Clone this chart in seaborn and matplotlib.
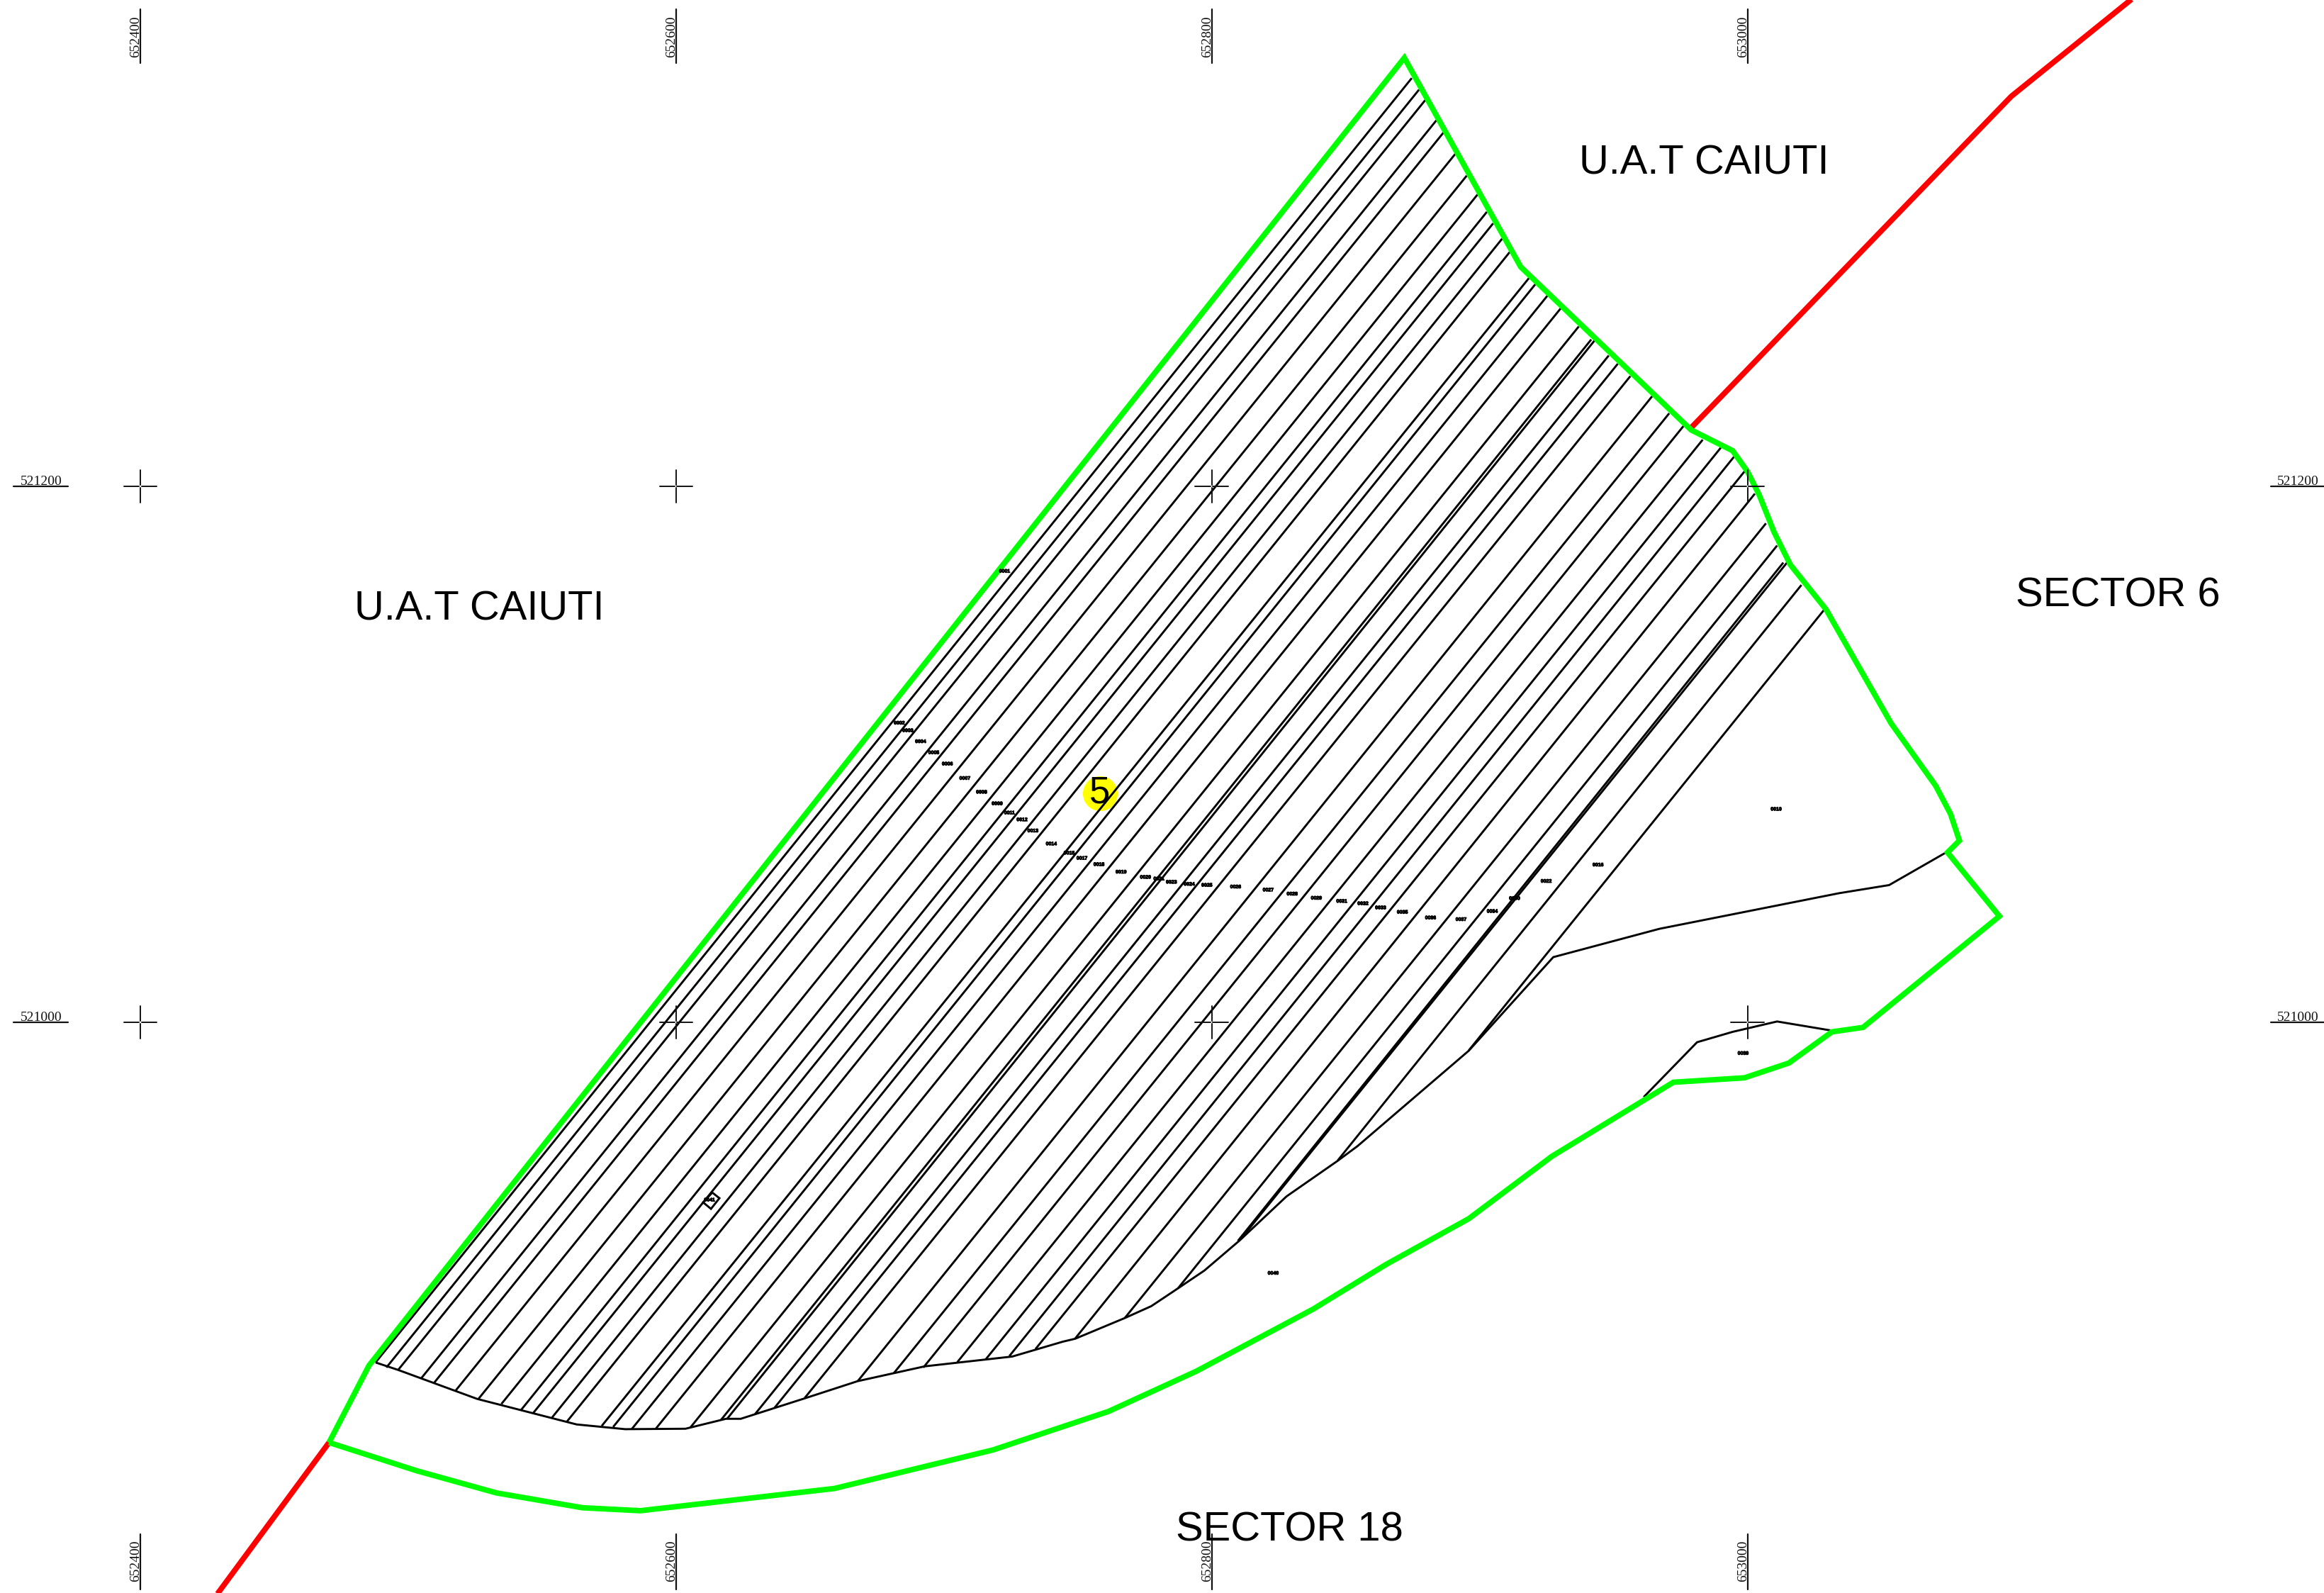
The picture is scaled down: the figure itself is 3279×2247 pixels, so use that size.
import numpy as np
import pandas as pd
import matplotlib
matplotlib.use("Agg")
import matplotlib.pyplot as plt
import matplotlib.patheffects as pe
import seaborn as sns

# Map grid (Stereo 70 metres) and how the digitised sheet positions relate to it
grid_east = [652400, 652600, 652800, 653000]
grid_north = [521200, 521000]
SHEET_PER_M = 1.8075
SHEET_E0, SHEET_N0 = 94.5, 328.0

# Parcel boundary (green)
boundary_x = [222, 249, 947.5, 1026, 1141, 1169, 1179, 1187, 1197, 1208, 1232, 1276, 1306, 1316, 1322,
              1314, 1349, 1257, 1236, 1207, 1177, 1129, 1047, 991, 935, 886, 807, 748, 670, 563, 432,
              393, 335, 281, 222]
boundary_y = [973, 921, 39, 180, 290, 304, 318, 334, 359, 381, 411, 488, 530, 549, 567,
              575, 618, 693, 696, 717, 727, 730, 780, 822, 853, 883, 925, 952, 978, 1004, 1019,
              1017, 1007, 992, 973]

# Neighbouring limits (red)
red_upper_x = [1141.5, 1357, 1440]
red_upper_y = [288, 65, -2]
red_lower_x = [222, 146]
red_lower_y = [973, 1076]

# Inner black limit of the hatched lots
inner_x = [253.4, 268.5, 322, 389, 421.8, 462.5, 489.8, 499.8, 543.6, 578.7, 624, 683, 717, 725.4, 759,
           776.8, 794.8, 812.6, 836.5, 868, 902.5, 916, 991, 1048, 1119.6, 1240.7, 1274.6, 1313]
inner_y = [919, 924, 943.6, 960.8, 964, 963.7, 957, 957, 943, 931.6, 921.6, 915, 905, 903, 889,
           881, 869, 857, 836.6, 807, 783, 773, 708.7, 645.6, 626.5, 602.5, 597, 575]

# Small enclosed lot in the south-east
pocket_x = [1109, 1145, 1169, 1199, 1235]
pocket_y = [740, 703, 696, 689, 695]

# Lot dividing lines: north-east ends and south-west ends
lot_top_x = [952.5, 957.4, 961.8, 969.1, 974, 981.8, 989.6, 996.9, 1003.2, 1007.4, 1013.5, 1018.8, 1031.8,
             1035.9, 1044, 1053, 1065.2, 1073.6, 1077.2, 1085.4, 1091.5, 1100, 1114.7, 1126.2, 1135.9,
             1148.8, 1161, 1170, 1177, 1184, 1191.5, 1199, 1203.2, 1206.5, 1215.4, 1231]
lot_top_y = [52.7, 60.5, 67.3, 81.2, 89.3, 103.9, 118.5, 131.2, 142.9, 150.7, 161, 169.8, 187.3,
             191.7, 199.5, 208, 220.2, 229, 228, 239.8, 245.4, 253.7, 267.3, 278.8, 287.3,
             296.6, 302, 308, 318, 333, 353, 368, 379.5, 378.5, 394.6, 411]
lot_low_x = [253.4, 260.7, 268.5, 284.2, 292.6, 307.4, 322.8, 338.3, 351.7, 359.7, 372.5, 382.5, 406,
             413.7, 426.1, 442.3, 465.7, 486.5, 490.6, 509.4, 522.4, 542.9, 578.8, 603, 623,
             645.9, 665, 681, 698.6, 725.3, 759, 794.7, 835.2, 837.8, 902.6, 991]
lot_low_y = [919, 922.4, 924.2, 929.7, 933.1, 938, 943.6, 947, 950.9, 953.2, 956.1, 958.9, 961.8,
             962.5, 964.1, 963.9, 963, 957.7, 957, 953.9, 949.8, 943, 931.5, 926.3, 922.4,
             918.8, 917, 914.7, 910, 903, 888.9, 869.1, 837, 835, 782.7, 708.5]

# Small block by the lower middle
block_x = [480.6, 485.4, 479.7, 474.4, 480.6]
block_y = [804.4, 808.2, 815.4, 811, 804.4]

# Lot numbers
lot_names = ["0001", "0002", "0003", "0004", "0005", "0006", "0007", "0008", "0009", "0011", "0012", "0013",
             "0014", "0015", "0017", "0018", "0019", "0020", "0021", "0023", "0024", "0025", "0026", "0027",
             "0028", "0029", "0031", "0032", "0033", "0035", "0036", "0037", "0034", "0030", "0022", "0016",
             "0010", "0039", "0040", "0041"]
lot_name_x = [677.8, 606.8, 612.5, 621.1, 630, 639.2, 651, 662.3, 672.8, 681.1, 689.6, 696.9,
              709.3, 721.4, 730, 741.5, 756.4, 772.9, 782, 790.4, 802.4, 814.3, 833.7, 855.7,
              871.9, 888.2, 905.3, 919.6, 931.5, 946.2, 965.2, 985.8, 1006.8, 1021.9, 1043.3, 1078.2,
              1198.4, 1176.1, 859, 478.7]
lot_name_y = [385.5, 487.9, 493, 500.4, 507.9, 515.5, 525.2, 534.5, 542.3, 548.5, 553.1, 560.6,
              569.4, 575.6, 579.1, 583.3, 588.4, 591.9, 593, 595.2, 596.6, 597.3, 598.4, 600.5,
              603.2, 606, 608.1, 609.7, 612.5, 615.5, 619.3, 620.4, 614.9, 606.2, 594.6, 583.6,
              546, 710.7, 859, 809.6]

# Area names
area_names = ["U.A.T CAIUTI", "U.A.T CAIUTI", "SECTOR 6", "SECTOR 18"]
area_x = [1149.5, 323.5, 1429, 870]
area_y = [110, 411, 402, 1032]

# Plot number
plot_number = "5"
plot_number_x = [742]
plot_number_y = [535]


def east(sheet_x):
    return grid_east[0] + (np.asarray(sheet_x, float) - SHEET_E0) / SHEET_PER_M


def north(sheet_y):
    return grid_north[0] - (np.asarray(sheet_y, float) - SHEET_N0) / SHEET_PER_M


sns.set_theme(style="white")
plt.rcParams["font.family"] = ["Liberation Sans", "DejaVu Sans"]

W, H = 3279, 2247
fig = plt.figure(figsize=(W / 100, H / 100), dpi=100, facecolor="white")
ax = fig.add_axes([0, 0, 1, 1])
ax.set_xlim(east(0), east(W / 2.0912))
ax.set_ylim(north(H / 2.0912), north(0))
ax.set_axis_off()

BLACK_LW = 2.1
THICK_LW = 5.6


def draw(xs, ys, color, lw, z):
    df = pd.DataFrame({"e": east(xs), "n": north(ys)})
    sns.lineplot(data=df, x="e", y="n", sort=False, estimator=None, color=color, lw=lw, ax=ax,
                 zorder=z, legend=False, solid_joinstyle="miter", solid_capstyle="butt")


# lot lines
lots = pd.DataFrame({
    "lot": np.repeat(np.arange(len(lot_top_x)), 2),
    "e": east(np.column_stack([lot_top_x, lot_low_x]).ravel()),
    "n": north(np.column_stack([lot_top_y, lot_low_y]).ravel()),
})
sns.lineplot(data=lots, x="e", y="n", units="lot", estimator=None, sort=False, color="black",
             lw=BLACK_LW, ax=ax, zorder=2, legend=False, solid_capstyle="butt")

draw(inner_x, inner_y, "black", BLACK_LW, 2)
draw(pocket_x, pocket_y, "black", BLACK_LW, 2)
draw(block_x, block_y, "black", BLACK_LW, 2)
draw(red_upper_x, red_upper_y, "#ff0000", THICK_LW, 3)
draw(red_lower_x, red_lower_y, "#ff0000", THICK_LW, 3)
draw(boundary_x, boundary_y, "#00ff00", THICK_LW, 4)

# grid crosses and edge marks
GRID_LW = 1.4
ARM_IN, ARM_OUT = 0.5, 6.1
crosses = []
for e in grid_east:
    for n in grid_north:
        for k, (dx, dy) in enumerate([(1, 0), (-1, 0), (0, 1), (0, -1)]):
            crosses.append((f"{e}-{n}-{k}", e + dx * ARM_IN, n + dy * ARM_IN))
            crosses.append((f"{e}-{n}-{k}", e + dx * ARM_OUT, n + dy * ARM_OUT))
cross_df = pd.DataFrame(crosses, columns=["arm", "e", "n"])
sns.lineplot(data=cross_df, x="e", y="n", units="arm", estimator=None, sort=False, color="#111111",
             lw=GRID_LW, ax=ax, zorder=5, legend=False)

PX = 1 / (SHEET_PER_M * 2.0912)  # metres per output pixel
top_n = north(0)
bottom_n = north(H / 2.0912)
left_e = east(0)
right_e = east(W / 2.0912)
for e in grid_east:
    for n0, n1, tn in [(top_n - 13 * PX, top_n - 89 * PX, top_n - 52 * PX),
                       (bottom_n + 83 * PX, bottom_n + 5 * PX, bottom_n + 45 * PX)]:
        ax.plot([e, e], [n0, n1], color="#111111", lw=GRID_LW + 0.2, zorder=5)
        ax.text(e + 3 * PX, tn, str(e), rotation=90, ha="right", va="center", fontsize=14,
                family="Liberation Serif", color="#111111")
for n in grid_north:
    ax.plot([left_e + 19 * PX, left_e + 96 * PX], [n, n], color="#111111", lw=GRID_LW + 0.2, zorder=5)
    ax.plot([right_e - 75 * PX, right_e], [n, n], color="#111111", lw=GRID_LW + 0.2, zorder=5)
    ax.text(left_e + 58 * PX, n - 2 * PX, str(n), ha="center", va="bottom", fontsize=14,
            family="Liberation Serif", color="#111111")
    ax.text(right_e - 37 * PX, n - 2 * PX, str(n), ha="center", va="bottom", fontsize=14,
            family="Liberation Serif", color="#111111")

# plot number marker
num_df = pd.DataFrame({"e": east(plot_number_x), "n": north(plot_number_y)})
sns.scatterplot(data=num_df, x="e", y="n", s=1250, color="#ffff00", linewidth=0, ax=ax, zorder=1,
                legend=False)
ax.text(east(plot_number_x[0]), north(plot_number_y[0]), plot_number, ha="center", va="center",
        fontsize=38, color="black", zorder=6)

# labels
for name, x, y in zip(area_names, area_x, area_y):
    ax.text(east(x), north(y), name, ha="center", va="center", fontsize=41.7, color="black", zorder=6)
for name, x, y in zip(lot_names, lot_name_x, lot_name_y):
    ax.text(east(x), north(y), name, ha="center", va="center", fontsize=5, weight="bold",
            color="black", zorder=6,
            path_effects=[pe.withStroke(linewidth=0.7, foreground="black")])

ax.set_xlabel("")
ax.set_ylabel("")
fig.savefig("out.png", dpi=100, facecolor="white")
